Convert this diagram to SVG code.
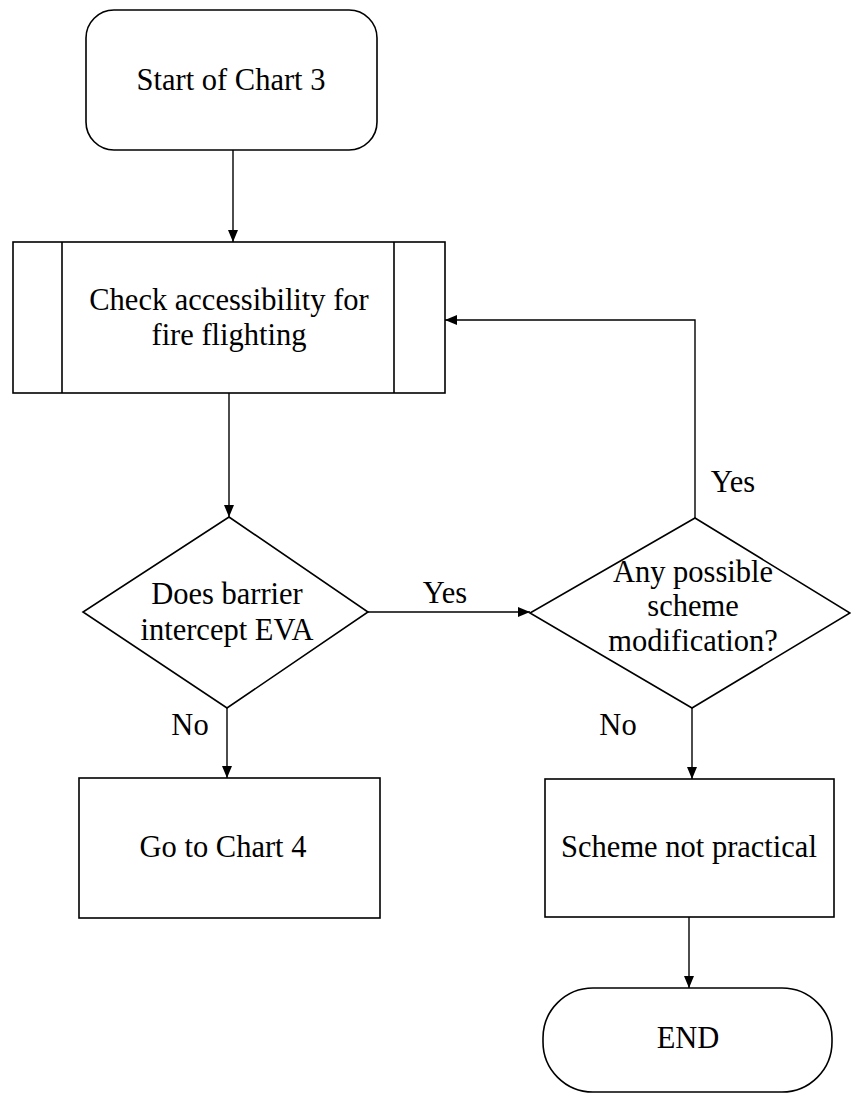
<svg xmlns="http://www.w3.org/2000/svg" width="851" height="1098" viewBox="0 0 851 1098">
<style>
.s{fill:#fff;stroke:#000;stroke-width:1.6}
.t{font-family:"Liberation Serif","Times New Roman",serif;font-size:30.5px;fill:#000;text-anchor:middle}
.c{fill:none;stroke:#000;stroke-width:1.4}
</style>
<defs>
<marker id="ah" viewBox="0 0 12 10" refX="12" refY="5" markerWidth="12" markerHeight="10" markerUnits="userSpaceOnUse" orient="auto">
<path d="M0,0 L12,5 L0,10 Z" fill="#000"/>
</marker>
</defs>
<rect width="851" height="1098" fill="#fff"/>
<g id="connectors">
<line class="c" x1="233" y1="150" x2="233" y2="242" marker-end="url(#ah)"/>
<line class="c" x1="229" y1="393" x2="229" y2="517" marker-end="url(#ah)"/>
<line class="c" x1="368" y1="612" x2="530" y2="612" marker-end="url(#ah)"/>
<polyline class="c" points="695,518 695,320 445,320" marker-end="url(#ah)"/>
<line class="c" x1="227" y1="708" x2="227" y2="778" marker-end="url(#ah)"/>
<line class="c" x1="692" y1="708" x2="692" y2="779" marker-end="url(#ah)"/>
<line class="c" x1="689" y1="917" x2="689" y2="988" marker-end="url(#ah)"/>
<text class="t" x="445" y="603">Yes</text>
<text class="t" x="733" y="492">Yes</text>
<text class="t" x="190" y="735">No</text>
<text class="t" x="618" y="735">No</text>
</g>
<g id="start">
<rect class="s" x="86" y="10" width="291" height="140" rx="28" ry="28"/>
<text class="t" x="231" y="90">Start of Chart 3</text>
</g>
<g id="check">
<rect class="s" x="13" y="242" width="432" height="151"/>
<line class="s" x1="62" y1="242" x2="62" y2="393"/>
<line class="s" x1="394" y1="242" x2="394" y2="393"/>
<text class="t" x="229" y="310">Check accessibility for</text>
<text class="t" x="229" y="345">fire flighting</text>
</g>
<g id="barrier">
<polygon class="s" points="229,517 368,612 227,708 83,612"/>
<text class="t" x="227" y="604">Does barrier</text>
<text class="t" x="227" y="640">intercept EVA</text>
</g>
<g id="modification">
<polygon class="s" points="695,518 850,613 692,708 530,613"/>
<text class="t" x="693" y="582">Any possible</text>
<text class="t" x="693" y="616">scheme</text>
<text class="t" x="693" y="651">modification?</text>
</g>
<g id="chart4">
<rect class="s" x="79" y="778" width="301" height="140"/>
<text class="t" x="223" y="857">Go to Chart 4</text>
</g>
<g id="notpractical">
<rect class="s" x="545" y="779" width="289" height="138"/>
<text class="t" x="689" y="857">Scheme not practical</text>
</g>
<g id="end">
<rect class="s" x="543" y="988" width="289" height="104" rx="50" ry="50"/>
<text class="t" x="688" y="1048">END</text>
</g>
</svg>
